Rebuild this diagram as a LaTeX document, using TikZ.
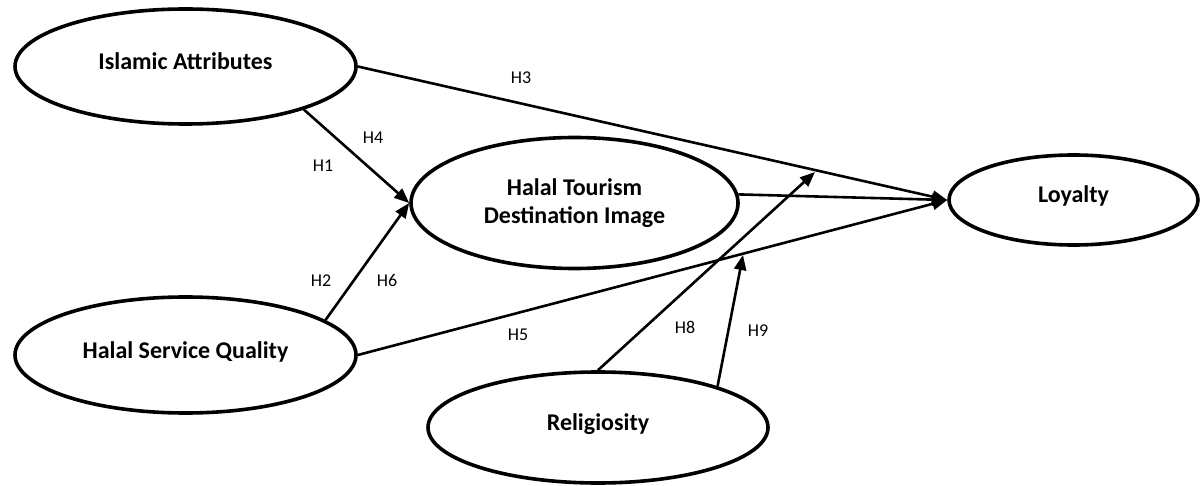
\documentclass[tikz,border=0pt]{standalone}
\usepackage{fontspec}
\setmainfont{Carlito}
\usetikzlibrary{shapes.geometric, arrows.meta}
\tikzset{
  construct/.style={ellipse, draw, line width=3.6pt, inner sep=0pt, align=center,
    font=\bfseries\fontsize{24}{28}\selectfont},
  lifted/.style={text height=16pt, text depth=10pt},
  hyp/.style={line width=2.6pt, -{Triangle[length=15pt,width=12pt]}},
  hlabel/.style={font=\fontsize{18}{20}\selectfont}
}
\begin{document}
\begin{tikzpicture}[x=1pt, y=-1pt]
            \useasboundingbox (0,0) rectangle (1201,486);
            \node [construct, lifted, minimum width=341, minimum height=115] (ia) at (185.5,66.5) {Islamic Attributes};
            \node [construct, lifted, minimum width=341, minimum height=116] (hsq) at (185.5,355) {Halal Service Quality};
            \node [construct, minimum width=327, minimum height=131] (htdi) at (574.5,203) {Halal Tourism\\Destination Image};
            \node [construct, lifted, minimum width=249, minimum height=90] (loy) at (1073.5,200) {Loyalty};
            \node [construct, lifted, minimum width=340, minimum height=111] (rel) at (598,427.5) {Religiosity};
            \coordinate (h8end) at (815,172);
            \coordinate (h9end) at (743,255);
            \path (ia.east) edge [hyp] (loy.west);
            \path (ia.-20) edge [hyp] (htdi.west);
            \path (hsq.14) edge [hyp] (htdi.west);
            \path (htdi.3) edge [hyp] (loy.west);
            \path (hsq.east) edge [hyp] (loy.west);
            \path (rel.north) edge [hyp] (h8end);
            \path (rel.19) edge [hyp] (h9end);
            \node [hlabel] (h3) at (521,78) {H3};
            \node [hlabel] (h4) at (373,138) {H4};
            \node [hlabel] (h1) at (323,166) {H1};
            \node [hlabel] (h2) at (321,281) {H2};
            \node [hlabel] (h6) at (387,280) {H6};
            \node [hlabel] (h5) at (518,335) {H5};
            \node [hlabel] (h8) at (685,327) {H8};
            \node [hlabel] (h9) at (758,331) {H9};
        \end{tikzpicture}
\end{document}
